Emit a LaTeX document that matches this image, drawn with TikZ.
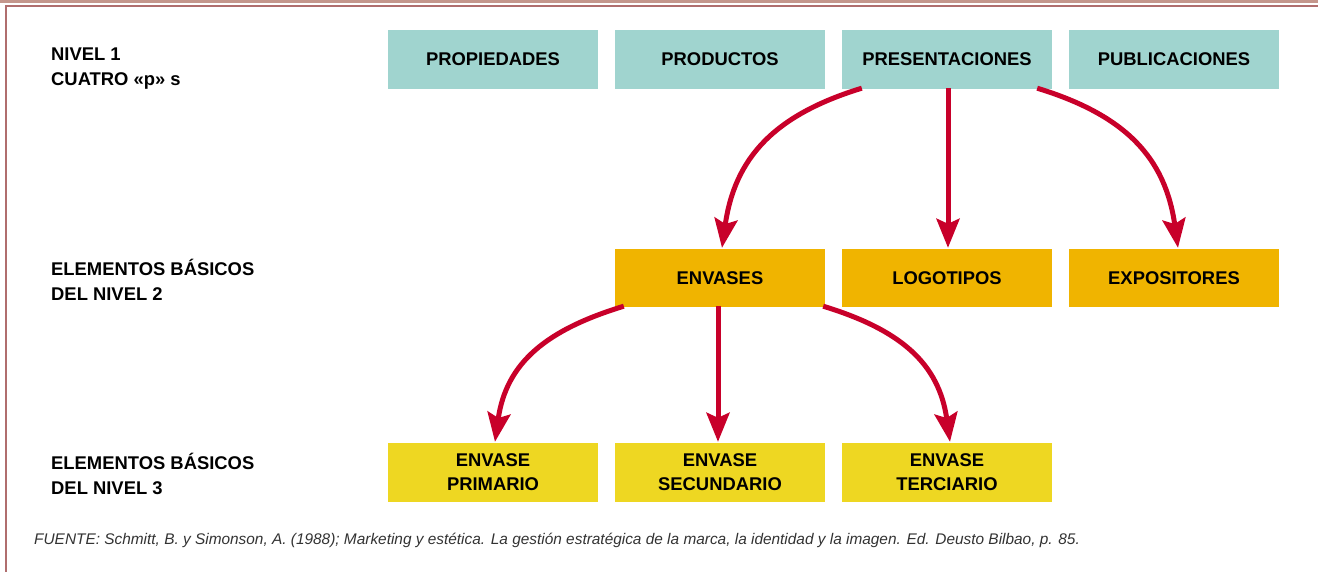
\documentclass[tikz,border=0pt]{standalone}
\usepackage{fontspec}
\setmainfont{Liberation Sans}
\usetikzlibrary{arrows.meta,calc}
\definecolor{tealbox}{HTML}{A0D4CF}
\definecolor{orangebox}{HTML}{F0B400}
\definecolor{yellowbox}{HTML}{EED722}
\definecolor{arrowred}{HTML}{C8002A}
\definecolor{frameA}{HTML}{C4968C}
\definecolor{frameB}{HTML}{B06E6E}
\definecolor{notegray}{HTML}{333333}
\begin{document}
\begin{tikzpicture}[x=1pt,y=1pt,
  box/.style={minimum width=210pt,inner sep=0pt,align=center,
    font=\fontsize{18.4}{24}\selectfont\bfseries,text=black},
  boxA/.style={box,fill=tealbox,minimum height=59pt},
  boxB/.style={box,fill=orangebox,minimum height=58pt},
  boxC/.style={box,fill=yellowbox,minimum height=59pt},
  lvl/.style={anchor=west,align=left,inner sep=0pt,
    font=\fontsize{18.4}{25}\selectfont\bfseries,text=black},
  link/.style={draw=arrowred,line width=5pt,
    -{Stealth[length=29pt,width=23pt,inset=5pt]}},
  note/.style={anchor=west,inner sep=0pt,text=notegray,
    font=\fontsize{15.4}{18}\selectfont\itshape}]
\useasboundingbox (0,0) rectangle (1318,572);
\fill[white] (0,0) rectangle (1318,572);
% frame
\fill[frameA] (0,569) rectangle (1318,572);
\fill[frameB] (5,565) rectangle (1318,567);
\fill[frameB] (5,0) rectangle (7,567);
% level labels
\node[lvl] (l1) at (51,503.5) {NIVEL 1\\CUATRO «p» s};
\node[lvl] (l2) at (51,292) {ELEMENTOS BÁSICOS\\DEL NIVEL 2};
\node[lvl] (l3) at (51,98.5) {ELEMENTOS BÁSICOS\\DEL NIVEL 3};
% row 1
\node[boxA] (prop) at (493,512.5) {PROPIEDADES};
\node[boxA] (prod) at (720,512.5) {PRODUCTOS};
\node[boxA] (pres) at (947,512.5) {PRESENTACIONES};
\node[boxA] (publ) at (1174,512.5) {PUBLICACIONES};
% row 2
\node[boxB] (env) at (720,294) {ENVASES};
\node[boxB] (logo) at (947,294) {LOGOTIPOS};
\node[boxB] (expo) at (1174,294) {EXPOSITORES};
% row 3
\node[boxC] (prim) at (493,99.5) {ENVASE\\PRIMARIO};
\node[boxC] (secu) at (720,99.5) {ENVASE\\SECUNDARIO};
\node[boxC] (terc) at (947,99.5) {ENVASE\\TERCIARIO};
% arrows
\draw[link] ($(pres.south west)+(20,1)$) to[out=197,in=82,looseness=1.1] ($(env.north)+(2,1)$);
\draw[link] ($(pres.south)+(1,1)$) -- ($(logo.north)+(1,1)$);
\draw[link] ($(pres.south east)+(-15,1)$) to[out=-17,in=98,looseness=1.1] ($(expo.north)+(4,1)$);
\draw[link] ($(env.south west)+(9,1)$) to[out=197,in=82,looseness=1.1] ($(prim.north)+(2,1)$);
\draw[link] ($(env.south)+(-2,1)$) -- ($(secu.north)+(-2,1)$);
\draw[link] ($(env.south east)+(-2,1)$) to[out=-17,in=98,looseness=1.1] ($(terc.north)+(3,1)$);
% source
\node[note] (src) at (34,32) {FUENTE: Schmitt, B. y Simonson, A. (1988); Marketing y estética. La gestión estratégica de la marca, la identidad y la imagen. Ed. Deusto Bilbao, p. 85.};
\end{tikzpicture}
\end{document}
